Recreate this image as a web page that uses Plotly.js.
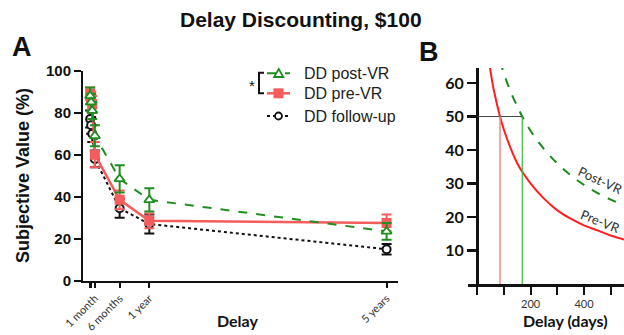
<!DOCTYPE html>
<html><head><meta charset="utf-8">
<script src="https://cdn.plot.ly/plotly-3.0.1.min.js"></script>
<style>html,body{margin:0;padding:0;background:#fff}#chart{width:624px;height:335px}</style>
</head><body><div id="chart"></div><script>
// ---- Panel A data ----
const delayDaysA = [1, 7, 14, 30, 182.5, 365, 1825];
const postVR = [88, 85, 81, 69, 48.5, 38.5, 23.5];
const postVRErr = [4, 4, 4, 5, 6.5, 5.5, 4];
const preVR = [89, 87, 84, 60, 38.5, 28.5, 27.5];
const preVRErr = [3, 3, 4, 6, 4.5, 3.5, 4];
const followUp = [77, 74, 70, 58, 34.5, 27, 15];
const followUpErr = [4, 4, 4, 4, 4.5, 4.5, 2.5];
const tickDaysA = [1, 7, 30, 182.5, 365, 1825];
const tickLabelsA = ['', '', '1 month', '6 months', '1 year', '5 years'];
const yTicksA = [0, 20, 40, 60, 80, 100];

// ---- Panel B data ----
const delayDaysB = [40, 47.6, 60, 85, 100, 125, 150, 168.5, 200, 250, 300, 350, 400, 450, 500, 550];
const preCurve = [68, 64.5, 58.6, 50, 46, 40.5, 36, 33.5, 30, 25.5, 22, 19.5, 17.5, 16, 14.5, 13.3];
const delayDaysB2 = [85, 95, 100, 125, 150, 168.5, 200, 250, 300, 350, 400, 450, 500, 550];
const postCurve = [66.5, 64, 62.7, 57.4, 53, 50, 45.7, 40.3, 36, 32.5, 29.6, 27.2, 25.2, 23.5];
const ed50Pre = 85, ed50Post = 168.5, halfValue = 50;
const xTicksB = [0, 100, 200, 300, 400, 500];
const xTickLabelsB = ['', '', '200', '', '400', ''];
const yTicksB = [10, 20, 30, 40, 50, 60];

const W = 624, H = 335;
const px = x => x / W, py = y => 1 - y / H;
const GREEN = '#1f8f1f', RED = '#f55c5c', BLACK = '#111';

const traces = [
  {x: delayDaysA, y: followUp, type: 'scatter', mode: 'lines+markers', xaxis: 'x', yaxis: 'y',
   line: {color: BLACK, width: 2, dash: 'dot'},
   marker: {symbol: 'circle', size: 8, color: '#fff', line: {color: BLACK, width: 2}},
   error_y: {type: 'data', array: followUpErr, color: BLACK, thickness: 2, width: 5}},
  {x: delayDaysA, y: preVR, type: 'scatter', mode: 'lines+markers', xaxis: 'x', yaxis: 'y',
   line: {color: RED, width: 2.5},
   marker: {symbol: 'square', size: 10, color: RED},
   error_y: {type: 'data', array: preVRErr, color: RED, thickness: 2, width: 5}},
  {x: delayDaysA, y: postVR, type: 'scatter', mode: 'lines+markers', xaxis: 'x', yaxis: 'y',
   line: {color: GREEN, width: 2, dash: 'dash'},
   marker: {symbol: 'triangle-up', size: 9, color: '#fff', line: {color: GREEN, width: 1.8}},
   error_y: {type: 'data', array: postVRErr, color: GREEN, thickness: 2, width: 5}},
  {x: delayDaysB, y: preCurve, type: 'scatter', mode: 'lines', xaxis: 'x2', yaxis: 'y2',
   line: {color: '#ff1f1f', width: 2, shape: 'spline'}},
  {x: delayDaysB2, y: postCurve, type: 'scatter', mode: 'lines', xaxis: 'x2', yaxis: 'y2',
   line: {color: '#1a8a1a', width: 2, dash: 'dash', shape: 'spline'}}
];

const shapes = [
  {type: 'line', xref: 'x2', yref: 'y2', x0: 0, x1: ed50Post, y0: halfValue, y1: halfValue, line: {color: '#444', width: 1}},
  {type: 'line', xref: 'x2', yref: 'y2', x0: ed50Pre, x1: ed50Pre, y0: 0, y1: halfValue, line: {color: '#f28a8a', width: 1.5}},
  {type: 'line', xref: 'x2', yref: 'y2', x0: ed50Post, x1: ed50Post, y0: 0, y1: halfValue, line: {color: '#3cb83c', width: 1.2}},
  {type: 'line', xref: 'paper', yref: 'paper', x0: px(267), x1: px(290), y0: py(73.3), y1: py(73.3), line: {color: GREEN, width: 2, dash: 'dash'}},
  {type: 'path', xref: 'paper', yref: 'paper', path: `M ${px(278.7)} ${py(69)} L ${px(283.3)} ${py(77)} L ${px(274.1)} ${py(77)} Z`, fillcolor: '#fff', line: {color: GREEN, width: 1.8}},
  {type: 'line', xref: 'paper', yref: 'paper', x0: px(267), x1: px(290), y0: py(93.3), y1: py(93.3), line: {color: RED, width: 2.5}},
  {type: 'rect', xref: 'paper', yref: 'paper', x0: px(273.5), x1: px(283.5), y0: py(88.3), y1: py(98.3), fillcolor: RED, line: {width: 0}},
  {type: 'line', xref: 'paper', yref: 'paper', x0: px(267), x1: px(290), y0: py(116), y1: py(116), line: {color: BLACK, width: 2, dash: 'dot'}},
  {type: 'circle', xref: 'paper', yref: 'paper', x0: px(275), x1: px(282), y0: py(112.5), y1: py(119.5), fillcolor: '#fff', line: {color: BLACK, width: 1.8}},
  {type: 'path', xref: 'paper', yref: 'paper', path: `M ${px(264)} ${py(72.7)} L ${px(259)} ${py(72.7)} L ${px(259)} ${py(93.3)} L ${px(264)} ${py(93.3)}`, line: {color: BLACK, width: 2}}
];

const ann = (text, x, y, size, opts = {}) => Object.assign({
  text, x: px(x), y: py(y), xref: 'paper', yref: 'paper', showarrow: false,
  xanchor: 'center', yanchor: 'middle', font: {family: 'Liberation Sans, Arial, sans-serif', size, color: '#111'}
}, opts);
const lato = (size, color) => ({family: 'Lato, sans-serif', size, color});
const arial = (size, color) => ({family: 'Liberation Sans, Arial, sans-serif', size, color});

const annotations = [
  ann('<b>Delay Discounting, $100</b>', 301, 19, 21),
  ann('<b>A</b>', 22, 47, 27),
  ann('<b>B</b>', 429, 52, 27),
  ann('<b>Subjective Value (%)</b>', 23, 176, 18, {textangle: -90}),
  ann('<b>Delay</b>', 237, 320, 16, {font: lato(16, '#111')}),
  ann('<b>Delay (days)</b>', 565, 320, 16, {font: lato(16, '#111')}),
  ann('DD post-VR', 301.7, 73.3, 16, {xanchor: 'left', font: arial(16, '#222')}),
  ann('DD pre-VR', 301.7, 93.3, 16, {xanchor: 'left', font: arial(16, '#222')}),
  ann('DD follow-up', 301.7, 116, 16, {xanchor: 'left', font: arial(16, '#222')}),
  ann('*', 251.5, 85, 15),
  ann('Post-VR', 600, 180, 13, {textangle: 25, font: lato(13, '#333')}),
  ann('Pre-VR', 600, 221, 13, {textangle: 22, font: lato(13, '#333')})
];

const layout = {
  width: W, height: H, margin: {l: 0, r: 0, t: 0, b: 0},
  paper_bgcolor: '#fff', plot_bgcolor: 'rgba(0,0,0,0)', showlegend: false,
  xaxis: {domain: [px(83), px(398.3)], range: [-43, 1897], anchor: 'y',
    tickvals: tickDaysA, ticktext: tickLabelsA, tickangle: -45, ticks: 'outside', ticklen: 5, tickwidth: 2, tickcolor: BLACK,
    tickfont: lato(11, '#333'),
    showline: true, linecolor: BLACK, linewidth: 2, showgrid: false, zeroline: false},
  yaxis: {domain: [py(280.7), py(70.7)], range: [0, 100], anchor: 'x',
    tickvals: yTicksA, ticks: 'outside', ticklen: 7, tickwidth: 2, tickcolor: BLACK,
    tickfont: {family: 'Liberation Sans, Arial, sans-serif', size: 15, color: '#111', weight: 'bold'},
    showline: true, linecolor: BLACK, linewidth: 2, showgrid: false, zeroline: false},
  xaxis2: {domain: [px(468), 1], range: [-35, 550], anchor: 'y2',
    tickvals: xTicksB, ticktext: xTickLabelsB, ticks: 'outside', ticklen: 8, tickwidth: 2, tickcolor: BLACK,
    tickfont: lato(11, '#333'),
    showline: true, linecolor: BLACK, linewidth: 2.5, showgrid: false, zeroline: false},
  yaxis2: {domain: [py(284), py(68)], range: [0, 64.5], anchor: 'free', position: px(477),
    tickvals: yTicksB, ticks: 'outside', ticklen: 9, tickwidth: 2.5, tickcolor: BLACK,
    tickfont: {family: 'Lato, sans-serif', size: 16, color: '#111', weight: 'bold'},
    showline: true, linecolor: BLACK, linewidth: 2.5, showgrid: false, zeroline: false},
  shapes, annotations
};

Plotly.newPlot('chart', traces, layout, {displayModeBar: false, staticPlot: true});
</script></body></html>
